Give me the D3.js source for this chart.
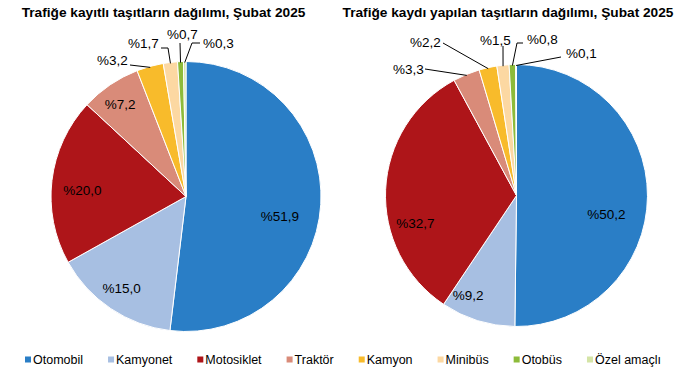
<!DOCTYPE html>
<html><head><meta charset="utf-8">
<script src="https://cdn.jsdelivr.net/npm/d3@7"></script>
<style>body{margin:0;background:#fff}svg{display:block}text{font-family:"Liberation Sans",Arial,sans-serif}</style>
</head><body><svg id="c" width="680" height="373"></svg>
<script>
const categories = ["Otomobil","Kamyonet","Motosiklet","Traktör","Kamyon","Minibüs","Otobüs","Özel amaçlı"];
const colors = ["#2a7ec6","#a7bfe2","#ae1519","#d98b79","#f8bb2b","#fcd8a2","#8dbb3a","#d4e4a6"];
const registered = [51.9,15.0,20.0,7.2,3.2,1.7,0.7,0.3];
const newlyRegistered = [50.2,9.2,32.7,3.3,2.2,1.5,0.8,0.1];
const titles = ["Trafiğe kayıtlı taşıtların dağılımı, Şubat 2025","Trafiğe kaydı yapılan taşıtların dağılımı, Şubat 2025"];
const fmt = v => "%" + v.toFixed(1).replace(".", ",");

const svg = d3.select("#c");
const deg = Math.PI/180;

// layout: inside labels as [radius fraction, angle in degrees]; outside labels with leader elbows
const charts = [
  {values: registered, cx:186, cy:196.5, r:135, titleX:163.5,
   inside:{0:[0.71,101.7],1:[0.83,215],2:[0.77,273.6],3:[0.84,324.5]},
   outside:{4:{lx:97,ly:65,pts:[[130,65]]},
            5:{lx:128,ly:48,pts:[[161,48],[168,48]]},
            6:{lx:167,ly:39,pts:[[180,43]]},
            7:{lx:203,ly:48,pts:[[200,43],[192,43]]}}},
  {values: newlyRegistered, cx:516.5, cy:195.5, r:131, titleX:508,
   inside:{0:[0.70,101.7],1:[0.85,205.8],2:[0.80,254.8]},
   outside:{3:{lx:393,ly:74,pts:[[425,69]]},
            4:{lx:410,ly:47,pts:[[443,43]]},
            5:{lx:480,ly:45,pts:[[503,46]]},
            6:{lx:527,ly:44,pts:[[523,43],[517,43]]},
            7:{lx:566,ly:58,pts:[[561,57]]}}}
];

charts.forEach((c, ci) => {
  const data = c.values.map((v,i)=>({v,i}));
  const pie = d3.pie().value(d=>d.v).sort(null);
  const arcs = pie(data);
  const arc = d3.arc().innerRadius(0).outerRadius(c.r);
  const g = svg.append("g").attr("transform",`translate(${c.cx},${c.cy})`);
  g.selectAll("path").data(arcs).join("path")
    .attr("d", arc).attr("fill", d=>colors[d.data.i])
    .attr("stroke","#fff").attr("stroke-width",1);

  arcs.forEach(a => {
    const p = c.inside[a.data.i];
    if (!p) return;
    const rr = c.r*p[0], ang = p[1]*deg;
    g.append("text").attr("x",rr*Math.sin(ang)).attr("y",-rr*Math.cos(ang)).attr("dy","0.35em")
      .attr("text-anchor","middle").attr("font-size",13.5).attr("fill","#000")
      .text(fmt(a.data.v));
  });
  arcs.forEach(a => {
    const o = c.outside[a.data.i];
    if (!o) return;
    const mid = (a.startAngle+a.endAngle)/2;
    const ex = c.cx + (c.r-1)*Math.sin(mid), ey = c.cy - (c.r-1)*Math.cos(mid);
    const pts = o.pts.concat([[ex,ey]]);
    svg.append("text").attr("x",o.lx).attr("y",o.ly)
      .attr("font-size",13.5).attr("fill","#000")
      .text(fmt(a.data.v));
    svg.append("path").attr("d", d3.line()(pts)).attr("fill","none")
      .attr("stroke","#000").attr("stroke-width",1);
  });

  svg.append("text").attr("x",c.titleX).attr("y",17).attr("text-anchor","middle")
    .attr("font-size",13.7).attr("font-weight","bold").text(titles[ci]);
});

// legend
const lg = svg.append("g").attr("transform","translate(0,360)");
let x = 25;
categories.forEach((name,i) => {
  lg.append("rect").attr("x",x).attr("y",-3.5).attr("width",6).attr("height",6).attr("fill",colors[i]);
  const t = lg.append("text").attr("x",x+8).attr("y",0).attr("dy","0.35em")
    .attr("font-size",12.5).attr("fill","#000").text(name);
  x += 8 + t.node().getComputedTextLength() + 25;
});
</script></body></html>
